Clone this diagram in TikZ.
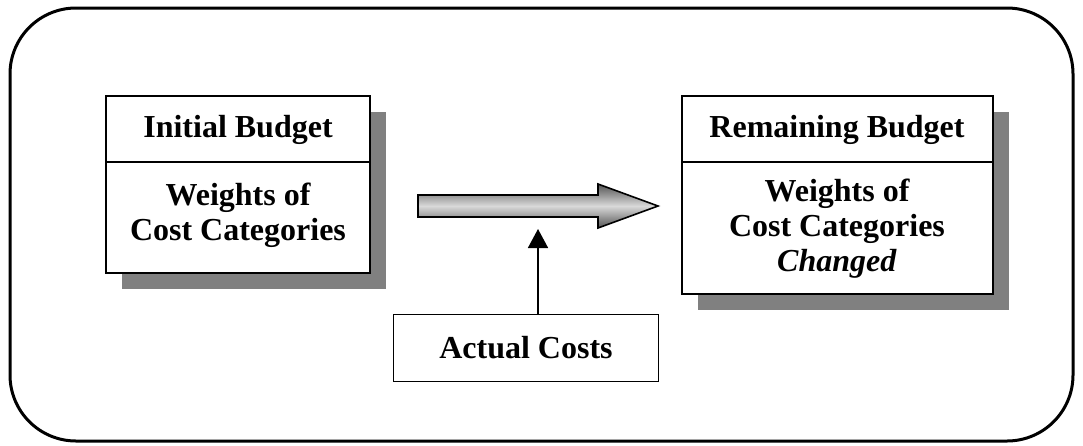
\documentclass[tikz,border=0pt]{standalone}
\usepackage{fontspec}
\setmainfont{Liberation Serif}
\usetikzlibrary{arrows.meta}
\pgfdeclareverticalshading{bigarrow}{100bp}{rgb(0bp)=(.33,.33,.33); rgb(25bp)=(.33,.33,.33); rgb(50bp)=(.85,.85,.85); rgb(75bp)=(.33,.33,.33); rgb(100bp)=(.33,.33,.33)}
\tikzset{
  boxline/.style={draw=black, line width=2pt, fill=white},
  shadowbox/.style={fill=black!50, draw=none},
  lbl/.style={font=\fontsize{32}{35}\selectfont\bfseries, align=center, inner sep=0pt},
  link/.style={draw=black, line width=1.6pt, -{Triangle[width=20pt,length=19pt]}},
}
\begin{document}
\begin{tikzpicture}[x=1pt,y=-1pt]
\useasboundingbox (0,0) rectangle (1083,445);
% outer frame
\draw[line width=3pt, rounded corners=66pt] (10,8) rectangle (1073,441);
% left box
\fill[shadowbox] (122,112) rectangle (386,289);
\draw[boxline] (106,96) rectangle (370,273);
\draw[line width=2pt] (106,162) -- (370,162);
\node[lbl] (ib) at (238,130) {Initial Budget};
\node[lbl] (ibw) at (238,215) {Weights of\\Cost Categories};
% right box
\fill[shadowbox] (698,112) rectangle (1009,310);
\draw[boxline] (682,96) rectangle (993,294);
\draw[line width=2pt] (682,162) -- (993,162);
\node[lbl] (rb) at (837,130) {Remaining Budget};
\node[lbl] (rbw) at (837,229) {Weights of\\Cost Categories\\\textit{Changed}};
% big arrow
\shade[shading=bigarrow, draw=black, line width=1.6pt]
  (418,195) -- (598,195) -- (598,184) -- (658,206) -- (598,228) -- (598,217) -- (418,217) -- cycle;
\coordinate (arrowbase) at (538,229);
% actual costs
\node[draw=black, line width=1.6pt, fill=white, minimum width=265pt, minimum height=67pt, lbl] (ac) at (526,348) {Actual Costs};
\draw[link] ([xshift=12pt]ac.north) -- (arrowbase);
\end{tikzpicture}
\end{document}
